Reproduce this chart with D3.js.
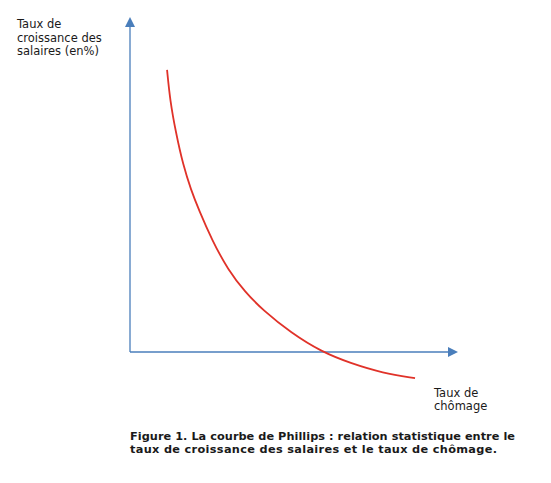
<!DOCTYPE html>
<html>
<head>
<meta charset="utf-8">
<script src="https://cdn.jsdelivr.net/npm/d3@7"></script>
<style>
  html, body { margin: 0; padding: 0; background: #fff; }
  svg { display: block; }
  text { font-family: "DejaVu Sans", Verdana, sans-serif; fill: #1a1a1a; }
</style>
</head>
<body>
<svg id="chart" width="551" height="483"></svg>
<script>
// Phillips curve (schematic), unemployment rate vs wage growth rate
const unemployment = [1.13, 1.22, 1.40, 1.62, 1.86, 2.10, 2.50, 2.99, 3.51, 4.05, 4.91, 5.85, 6.71, 7.71, 8.69];
const wageGrowth   = [8.42, 7.52, 6.54, 5.58, 4.84, 4.24, 3.34, 2.45, 1.79, 1.25, 0.57, 0.00, -0.33, -0.63, -0.78];
const yAxisLabel = ["Taux de", "croissance des", "salaires (en%)"];
const xAxisLabel = ["Taux de", "chômage"];
const caption = ["Figure 1. La courbe de Phillips : relation statistique entre le",
                 "taux de croissance des salaires et le taux de chômage."];
const xDomain = [0, 10];
const yDomain = [0, 10];

const svg = d3.select("#chart");
const x = d3.scaleLinear().domain(xDomain).range([130, 458]);
const y = d3.scaleLinear().domain(yDomain).range([352, 17]);

const axisColor = "#4a7ebb";
const arrowLen = 10, arrowHalf = 5;

// x axis
svg.append("line")
  .attr("x1", x(0)).attr("y1", y(0))
  .attr("x2", x(xDomain[1]) - arrowLen + 1).attr("y2", y(0))
  .attr("stroke", axisColor).attr("stroke-width", 1.3);
svg.append("path")
  .attr("d", `M${x(xDomain[1])},${y(0)} L${x(xDomain[1]) - arrowLen},${y(0) - arrowHalf} L${x(xDomain[1]) - arrowLen},${y(0) + arrowHalf} Z`)
  .attr("fill", axisColor);

// y axis
svg.append("line")
  .attr("x1", x(0)).attr("y1", y(0))
  .attr("x2", x(0)).attr("y2", y(yDomain[1]) + arrowLen - 1)
  .attr("stroke", axisColor).attr("stroke-width", 1.3);
svg.append("path")
  .attr("d", `M${x(0)},${y(yDomain[1])} L${x(0) - arrowHalf},${y(yDomain[1]) + arrowLen} L${x(0) + arrowHalf},${y(yDomain[1]) + arrowLen} Z`)
  .attr("fill", axisColor);

// curve
const pts = unemployment.map((u, i) => [u, wageGrowth[i]]);
const line = d3.line().x(d => x(d[0])).y(d => y(d[1])).curve(d3.curveBasis);
svg.append("path")
  .datum(pts)
  .attr("d", line)
  .attr("fill", "none")
  .attr("stroke", "#e03229")
  .attr("stroke-width", 1.8);

// y axis label
const yl = svg.append("text").attr("font-size", 11.5);
yAxisLabel.forEach((t, i) => {
  yl.append("tspan").attr("x", 17).attr("y", 28 + i * 13.5).text(t);
});

// x axis label
const xl = svg.append("text").attr("font-size", 11.5);
xAxisLabel.forEach((t, i) => {
  xl.append("tspan").attr("x", 434).attr("y", 397 + i * 12.5).text(t);
});

// caption
const capWidths = [385, 367];
caption.forEach((t, i) => {
  svg.append("text").attr("font-size", 11.3).attr("font-weight", "bold")
    .attr("x", 130).attr("y", 440 + i * 12.5)
    .attr("textLength", capWidths[i]).attr("lengthAdjust", "spacing")
    .text(t);
});
</script>
</body>
</html>
